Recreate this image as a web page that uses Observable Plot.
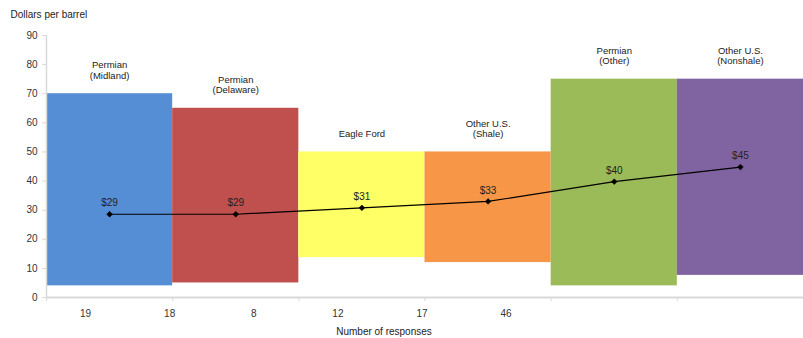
<!DOCTYPE html>
<html>
<head>
<meta charset="utf-8">
<script src="https://cdn.jsdelivr.net/npm/d3@7"></script>
<script src="https://cdn.jsdelivr.net/npm/@observablehq/plot@0.6"></script>
<style>
  html, body { margin: 0; padding: 0; background: #fff; }
  svg { display: block; }
</style>
</head>
<body>
<div id="chart"></div>
<script>
// Breakeven price ranges by region (dollars per barrel)
const regions = ["Permian\n(Midland)", "Permian\n(Delaware)", "Eagle Ford", "Other U.S.\n(Shale)", "Permian\n(Other)", "Other U.S.\n(Nonshale)"];
const lowPrices = [4, 5, 13.7, 12, 4, 7.6];
const highPrices = [70, 65, 50, 50, 75, 75];
const averagePrices = [28.6, 28.6, 30.8, 33, 39.8, 44.8];
const regionColors = ["#558ED5", "#C0504D", "#FFFF66", "#F79646", "#9BBB59", "#8064A2"];

// Category axis labels (number of responses)
const responseLabels = ["19", "18", "8", "12", "17", "46"];
const responseSlots = 9;
const yTicks = [0, 10, 20, 30, 40, 50, 60, 70, 80, 90];

const rows = regions.map((name, i) => ({
  i,
  name,
  low: lowPrices[i],
  high: highPrices[i],
  avg: averagePrices[i],
  color: regionColors[i]
}));

const font = "'Liberation Sans', Arial, sans-serif";
const grey = "#d9d9d9";
const textColor = "#333";

const chart = Plot.plot({
  width: 803,
  height: 338,
  marginLeft: 46,
  marginRight: 0,
  marginTop: 35,
  marginBottom: 41,
  style: {fontFamily: font, fontSize: "10px", color: textColor, background: "#fff"},
  x: {type: "linear", domain: [0, regions.length], axis: null},
  y: {domain: [0, 90], axis: null},
  marks: [
    Plot.rect(rows, {
      x1: d => d.i,
      x2: d => d.i + 1,
      y1: "low",
      y2: "high",
      fill: "color",
      inset: 0
    }),
    // axes
    Plot.ruleX([0], {stroke: grey, strokeWidth: 1.5}),
    Plot.axisY({
      ticks: yTicks,
      tickSize: 4,
      tickPadding: 5,
      stroke: grey,
      fill: textColor,
      fontSize: 10,
      label: null
    }),
    Plot.ruleY([0], {stroke: grey, strokeWidth: 2}),
    Plot.axisX({
      ticks: d3.range(0, regions.length),
      tickSize: 4,
      tickFormat: () => "",
      stroke: grey,
      label: null
    }),
    Plot.text(responseLabels, {
      x: (d, j) => (j + 0.5) * regions.length / responseSlots,
      frameAnchor: "bottom",
      dx: -3,
      dy: 16,
      lineAnchor: "middle",
      text: d => d,
      fill: textColor,
      fontSize: 10
    }),
    // average price line
    Plot.line(rows, {
      x: d => d.i + 0.5,
      y: "avg",
      stroke: "#000",
      strokeWidth: 1.2
    }),
    Plot.dot(rows, {
      x: d => d.i + 0.5,
      y: "avg",
      symbol: "diamond2",
      r: 2.6,
      fill: "#000",
      stroke: "#000",
      strokeWidth: 0.5
    }),
    Plot.text(rows, {
      x: d => d.i + 0.5,
      y: "avg",
      text: d => "$" + d3.format(".0f")(d.avg),
      dy: -11,
      fill: "#222",
      fontSize: 10
    }),
    // region names above each box
    Plot.text(rows, {
      x: d => d.i + 0.5,
      y: "high",
      text: "name",
      lineAnchor: "bottom",
      lineHeight: 1.1,
      dy: -15,
      fill: "#222",
      fontSize: 9.5
    }),
    // titles
    Plot.text(["Dollars per barrel"], {
      frameAnchor: "top-left",
      textAnchor: "start",
      lineAnchor: "middle",
      dx: -36,
      dy: -21,
      fill: "#222",
      fontSize: 10
    }),
    Plot.text(["Number of responses"], {
      frameAnchor: "bottom",
      lineAnchor: "middle",
      dx: -41,
      dy: 34,
      fill: "#222",
      fontSize: 10
    })
  ]
});

document.getElementById("chart").appendChild(chart);
</script>
</body>
</html>
